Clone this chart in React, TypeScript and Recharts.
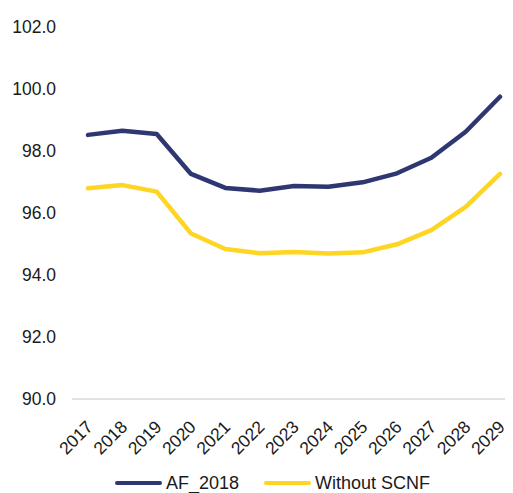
import React from "react";
import { LineChart, Line, XAxis, YAxis, Legend } from "recharts";

const years = ["2017","2018","2019","2020","2021","2022","2023","2024","2025","2026","2027","2028","2029"];
const af2018 = [98.52, 98.65, 98.55, 97.26, 96.81, 96.72, 96.87, 96.85, 96.99, 97.28, 97.78, 98.62, 99.75];
const withoutScnf = [96.80, 96.90, 96.69, 95.34, 94.84, 94.70, 94.74, 94.69, 94.73, 94.99, 95.45, 96.20, 97.26];
const yTicks = [90, 92, 94, 96, 98, 100, 102];

const data = years.map((y, i) => ({ year: y, af: af2018[i], wo: withoutScnf[i] }));

const FONT = '"Liberation Sans", Arial, sans-serif';
const TEXT = "#1a1a1a";

const XTick = (props: any) => {
  const { x, y, payload } = props;
  const ax = x + 6;
  const ay = y + 21;
  return (
    <text
      x={ax}
      y={ay}
      transform={`rotate(-45, ${ax}, ${ay})`}
      textAnchor="end"
      fontFamily={FONT}
      fontSize={17.5}
      fill={TEXT}
    >
      {payload.value}
    </text>
  );
};

const LegendContent = (props: any) => {
  const { payload } = props;
  return (
    <div style={{ height: 34, position: "relative", fontFamily: FONT, fontSize: 18, color: TEXT }}>
      <div style={{ position: "absolute", left: 115, top: 12, display: "flex", alignItems: "center", height: 24 }}>
        {(payload || []).map((p: any, i: number) => (
          <div key={i} style={{ display: "flex", alignItems: "center", marginRight: i === 0 ? 25 : 0 }}>
            <div style={{ width: 47, height: 4.5, borderRadius: 3, background: p.color, marginRight: 4 }} />
            <span style={{ lineHeight: "24px", whiteSpace: "nowrap" }}>{p.value}</span>
          </div>
        ))}
      </div>
    </div>
  );
};

export default function App() {
  return (
    <div style={{ marginLeft: -8, marginTop: -8, width: 521, height: 493, background: "#fff" }}>
      <LineChart
        width={521}
        height={493}
        data={data}
        margin={{ top: 27, right: 5, bottom: 0, left: 0 }}
      >
        <XAxis
          dataKey="year"
          type="category"
          height={60}
          interval={0}
          padding={{ left: 16, right: 16 }}
          tickLine={false}
          axisLine={{ stroke: "#d9d9d9", strokeWidth: 1.5 }}
          tick={<XTick />}
        />
        <YAxis
          type="number"
          domain={[90, 102]}
          ticks={yTicks}
          width={72}
          axisLine={false}
          tickLine={false}
          tickMargin={10}
          tickFormatter={(v: number) => v.toFixed(1)}
          tick={{ fontFamily: FONT, fontSize: 17.5, fill: TEXT }}
        />
        <Legend verticalAlign="bottom" height={34} content={<LegendContent />} />
        <Line
          type="linear"
          dataKey="af"
          name="AF_2018"
          stroke="#2E3772"
          strokeWidth={4.5}
          strokeLinejoin="round"
          strokeLinecap="round"
          dot={false}
          activeDot={false}
          isAnimationActive={false}
        />
        <Line
          type="linear"
          dataKey="wo"
          name="Without SCNF"
          stroke="#FED523"
          strokeWidth={4.5}
          strokeLinejoin="round"
          strokeLinecap="round"
          dot={false}
          activeDot={false}
          isAnimationActive={false}
        />
      </LineChart>
    </div>
  );
}
